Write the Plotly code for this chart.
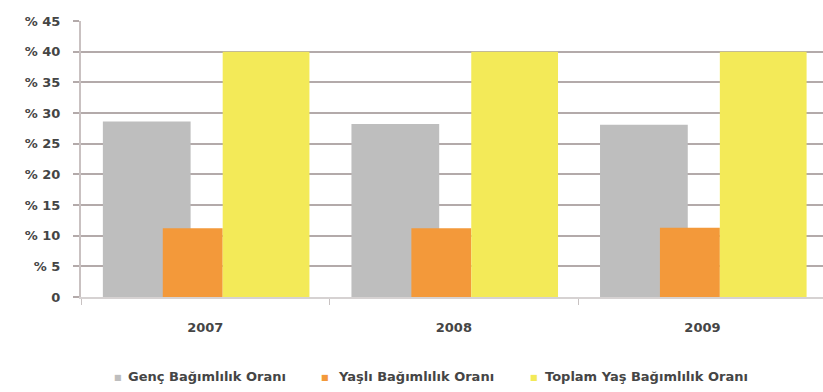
import plotly.graph_objects as go

# Dependency ratios by year (percent)
years = ["2007", "2008", "2009"]
genc = [28.6, 28.2, 28.1]        # Genç Bağımlılık Oranı
yasli = [11.2, 11.2, 11.3]       # Yaşlı Bağımlılık Oranı
toplam = [40.0, 40.0, 40.0]      # Toplam Yaş Bağımlılık Oranı

series_names = ["Genç Bağımlılık Oranı", "Yaşlı Bağımlılık Oranı", "Toplam Yaş Bağımlılık Oranı"]
series_colors = ["#bebebe", "#f3993a", "#f3ea58"]

y_ticks = [0, 5, 10, 15, 20, 25, 30, 35, 40, 45]
y_tick_text = ["0"] + [f"% {v}" for v in y_ticks[1:]]

# bar geometry inside each category band (units of one band)
offsets = [-0.412, -0.171, 0.070]
widths = [0.353, 0.241, 0.349]

font_family = "DejaVu Sans"
text_color = "#454545"
label_font = dict(family=font_family, size=13, color=text_color, weight="bold")

# plot-area geometry in pixels (used to place the legend row)
W, H = 823, 392
M_L, M_R, M_T, M_B = 81, 0, 21, 95
plot_w = W - M_L - M_R
plot_h = H - M_T - M_B

fig = go.Figure()
for vals, name, color, off, w in zip([genc, yasli, toplam], series_names, series_colors, offsets, widths):
    fig.add_trace(go.Bar(
        x=years, y=vals, name=name,
        marker=dict(color=color, line=dict(width=0)),
        offset=off, width=w,
        showlegend=False,
    ))

# legend row below the axis: small coloured square followed by the series name
legend_marker_px = [118, 325, 534]
legend_text_px = [126, 336, 543]
legend_y_px = 376
legend_y = (H - M_B - legend_y_px) / plot_h
annotations = []
for name, color, mx, tx in zip(series_names, series_colors, legend_marker_px, legend_text_px):
    annotations.append(dict(
        xref="paper", yref="paper",
        x=(mx - M_L) / plot_w, y=legend_y - 0.004,
        xanchor="center", yanchor="middle",
        text="■", showarrow=False,
        font=dict(family=font_family, size=8, color=color),
    ))
    annotations.append(dict(
        xref="paper", yref="paper",
        x=(tx - M_L) / plot_w, y=legend_y,
        xanchor="left", yanchor="middle",
        text=name, showarrow=False,
        font=label_font,
    ))

fig.update_layout(
    width=W, height=H,
    margin=dict(l=M_L, r=M_R, t=M_T, b=M_B),
    barmode="overlay",
    paper_bgcolor="white",
    plot_bgcolor="white",
    font=label_font,
    showlegend=False,
    annotations=annotations,
    xaxis=dict(
        type="category",
        range=[-0.5, 2.485],
        showgrid=False,
        showline=True, linecolor="#d6d2d2", linewidth=2,
        ticks="outside", tickson="boundaries", ticklen=6, tickcolor="#c8c2c2", tickwidth=1,
        tickfont=label_font,
        ticklabelstandoff=17,
        zeroline=False,
    ),
    yaxis=dict(
        range=[0, 45],
        tickvals=y_ticks, ticktext=y_tick_text,
        showgrid=True, gridcolor="#b3aaaa", gridwidth=2,
        showline=True, linecolor="#c9c1c1", linewidth=2,
        ticks="outside", ticklen=6, tickcolor="#b3aaaa", tickwidth=2,
        tickfont=label_font,
        ticklabelstandoff=10,
        zeroline=False,
    ),
)

fig.write_html("out.html")
